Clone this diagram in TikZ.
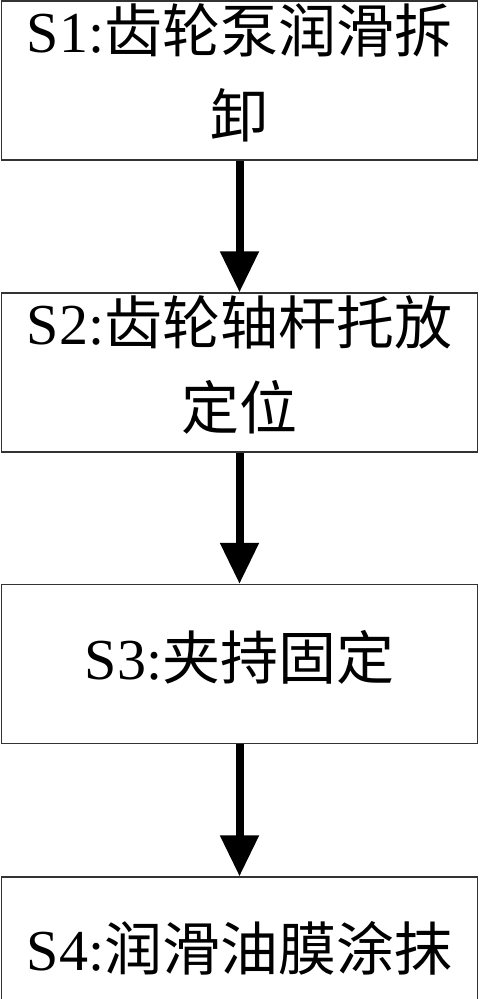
\documentclass[tikz,border=0pt]{standalone}
\usepackage{fontspec}
\setmainfont{Liberation Serif}
\newfontfamily\cjk{Noto Sans CJK SC}
\usetikzlibrary{arrows.meta}
\tikzset{
	stepbox/.style={draw=black!80, line width=1.2pt, minimum width=476pt, minimum height=159pt, inner sep=0pt, text depth=19pt, align=center, font=\fontsize{58}{85}\selectfont},
	flow/.style={line width=8pt, -{Triangle[width=37pt,length=41pt]}}
}
\begin{document}
\begin{tikzpicture}[x=1pt,y=-1pt]
				\useasboundingbox (0,0) rectangle (480,999);
				\clip (0,0) rectangle (480,999);
				\node[stepbox] (s1) at (239.5,80.5) {S1:{\cjk 齿轮泵润滑拆}\\{\cjk 卸}};
				\node[stepbox] (s2) at (239.5,372.5) {S2:{\cjk 齿轮轴杆托放}\\{\cjk 定位}};
				\node[stepbox] (s3) at (239.5,664) {S3:{\cjk 夹持固定}};
				\node[stepbox, minimum height=156pt] (s4) at (239.5,955) {S4:{\cjk 润滑油膜涂抹}};
				\draw[flow] (s1) -- (s2);
				\draw[flow] (s2) -- (s3);
				\draw[flow] (s3) -- (s4);
			\end{tikzpicture}
\end{document}
